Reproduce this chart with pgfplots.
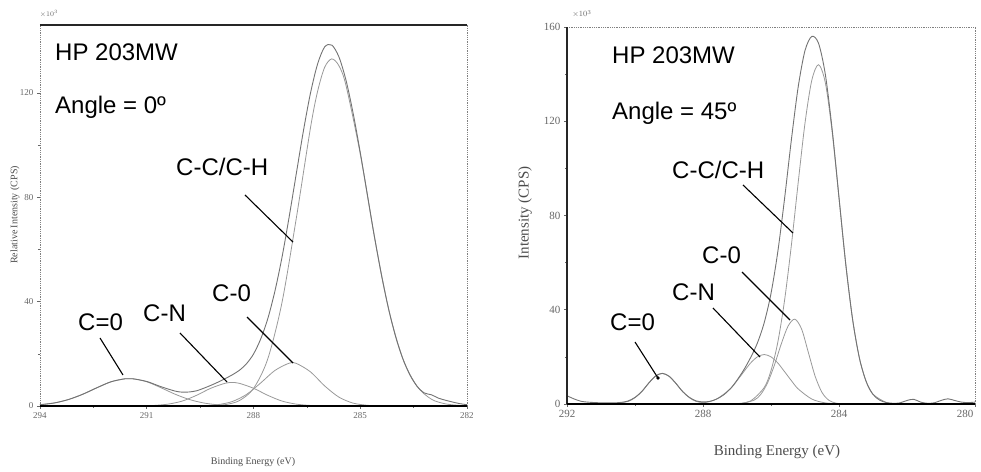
\documentclass[border=0pt]{standalone}
\usepackage{pgfplots}
\pgfplotsset{compat=1.18}
\usepackage{fontspec}
\setmainfont{Liberation Serif}
\newfontfamily\arial{Liberation Sans}

\begin{document}
\begin{tikzpicture}
\useasboundingbox (0,0) rectangle (981bp,472bp);
\pgfplotsset{
  xps/.style={scale only axis, anchor=south west, x dir=reverse, clip=false,
    axis line style={draw=none}, tick align=outside, xtick pos=left, ytick pos=left,
    major tick length=3bp, minor tick length=2bp,
    tick style={black!60, line width=0.6bp}, minor tick num=1,
    /pgf/number format/assume math mode=true, /pgf/number format/1000 sep={}},
  comp/.style={black!40, line width=0.8bp, smooth},
  env/.style={black!55, line width=0.9bp, smooth},
}

% ---------------- left panel: angle 0 ----------------
\begin{axis}[xps, at={(40bp,66bp)}, width=427bp, height=381bp,
  xmin=282, xmax=294, ymin=0, ymax=146,
  xtick={282,285,288,291,294}, ytick={0,40,80,120},
  ticklabel style={font=\fontsize{9bp}{9bp}\selectfont, text=black!60}]
% C=O
\addplot[comp] coordinates {(294.0,0.46) (293.6,1.16) (293.2,2.48) (292.8,4.5) (292.4,7.0)
  (292.0,9.3) (291.6,10.45) (291.4,10.45) (291.0,9.3) (290.6,7.0) (290.2,4.5) (289.8,2.48)
  (289.4,1.16) (289.0,0.46) (288.6,0.16) (288.2,0.05)};
% C-N
\addplot[comp] coordinates {(291.2,0.05) (290.8,0.21) (290.4,0.72) (290.0,1.9) (289.6,4.1)
  (289.2,6.8) (288.8,8.7) (288.6,9.0) (288.4,8.7) (288.0,6.8) (287.6,4.1) (287.2,1.9)
  (286.8,0.72) (286.4,0.21) (286.0,0.05)};
% C-O
\addplot[comp] coordinates {(289.4,0.13) (289.0,0.52) (288.6,1.7) (288.2,4.4) (287.8,8.8)
  (287.4,13.6) (287.0,16.4) (286.8,16.35) (286.4,13.1) (286.0,7.7) (285.6,3.4) (285.2,1.1)
  (284.8,0.26) (284.6,0.12)};
% C-C/C-H
\addplot[comp] coordinates {(289.2,0.1) (288.8,0.51) (288.4,2.05) (288.0,6.7) (287.6,18.0)
  (287.2,39.6) (286.8,71.7) (286.4,106.5) (286.2,120.5) (286.0,129.8) (285.8,133.0)
  (285.6,130.4) (285.4,122.8) (285.0,96.6) (284.6,64.7) (284.2,37.0) (283.8,18.0)
  (283.4,7.5) (283.0,2.6) (282.6,0.8) (282.2,0.2)};
% envelope
\addplot[env] coordinates {(294.0,0.5) (293.6,1.16) (293.2,2.48) (292.8,4.5) (292.4,7.0)
  (292.0,9.3) (291.6,10.45) (291.4,10.45) (291.0,9.4) (290.6,7.4) (290.2,5.7) (290.0,5.31)
  (289.8,5.38) (289.6,5.83) (289.4,6.79) (289.2,7.9) (289.0,9.12) (288.8,10.47)
  (288.6,11.91) (288.4,13.64) (288.2,16.15) (288.0,19.9) (287.8,25.6) (287.6,33.4)
  (287.4,43.9) (287.2,56.9) (287.0,72.3) (286.8,88.8) (286.6,105.2) (286.4,119.8)
  (286.2,131.0) (286.0,137.6) (285.8,138.3) (285.6,133.8) (285.4,124.8) (285.2,112.2)
  (285.0,97.2) (284.8,81.0) (284.6,64.8) (284.4,49.9) (284.2,37.0) (284.0,26.3)
  (283.8,18.0) (283.6,11.8) (283.4,7.5) (283.2,5.0) (283.0,4.3) (282.8,3.0) (282.6,2.2)
  (282.4,1.5) (282.2,0.9) (282.0,0.5)};
\draw[black!50, line width=0.8bp, densely dotted] (axis cs:294,0) -- (axis cs:294,146);
\draw[black!50, line width=0.8bp, densely dotted] (axis cs:282,0) -- (axis cs:282,146);
\draw[black!85, line width=1.5bp] (axis cs:294,146) -- (axis cs:282,146);
\draw[black, line width=2.2bp] (axis cs:294,0) -- (axis cs:282,0);
\end{axis}

% ---------------- right panel: angle 45 ----------------
\begin{axis}[xps, at={(567bp,68bp)}, width=408bp, height=377bp,
  xmin=280, xmax=292, ymin=0, ymax=160,
  xtick={284,288,292}, ytick={0,40,80,120,160},
  extra x ticks={280},
  extra x tick style={xticklabel style={anchor=north east, xshift=2bp}},
  ticklabel style={font=\fontsize{11bp}{11bp}\selectfont, text=black!60}]
% C=O
\addplot[comp] coordinates {(290.6,0.1) (290.2,1.1) (290.0,2.7) (289.8,5.3) (289.6,8.8)
  (289.4,11.8) (289.2,13.0) (289.0,11.8) (288.8,8.8) (288.6,5.3) (288.4,2.7) (288.2,1.1)
  (287.8,0.1)};
% C-N
\addplot[comp] coordinates {(288.4,0.07) (288.0,0.46) (287.6,2.1) (287.2,6.4) (287.0,9.9)
  (286.8,13.7) (286.6,17.4) (286.4,20.0) (286.2,21.0) (286.0,20.0) (285.8,17.4)
  (285.6,13.7) (285.4,9.9) (285.2,6.4) (284.8,2.1) (284.4,0.46) (284.0,0.07)};
% C-O
\addplot[comp] coordinates {(286.9,0.14) (286.5,1.6) (286.3,4.1) (286.1,9.0) (285.9,16.5)
  (285.7,25.4) (285.5,33.0) (285.3,36.0) (285.1,31.8) (284.9,21.8) (284.7,11.7)
  (284.5,4.9) (284.3,1.6) (284.1,0.4) (283.9,0.05)};
% C-C/C-H
\addplot[comp] coordinates {(287.0,0.16) (286.6,1.3) (286.2,7.0) (286.0,14.2) (285.8,26.2)
  (285.6,44.1) (285.4,67.5) (285.2,94.0) (285.0,119.2) (284.8,137.4) (284.6,144.0)
  (284.4,136.2) (284.2,115.3) (284.0,87.4) (283.8,59.2) (283.6,35.9) (283.4,19.5)
  (283.2,9.5) (283.0,4.1) (282.6,0.56) (282.4,0.17)};
% envelope
\addplot[env] coordinates {(292.0,3.5) (291.8,2.2) (291.6,1.2) (291.4,0.8) (291.0,0.5)
  (290.6,0.5) (290.4,0.7) (290.2,1.3) (290.0,2.8) (289.8,5.3) (289.6,8.8) (289.4,11.8)
  (289.2,13.0) (289.0,11.8) (288.8,8.8) (288.6,5.3) (288.4,2.8) (288.2,1.3) (288.0,0.9)
  (287.8,1.1) (287.6,2.1) (287.4,3.8) (287.2,6.4) (287.0,10.1) (286.8,14.5) (286.6,19.7)
  (286.4,25.9) (286.2,34.5) (286.0,46.9) (285.8,64.6) (285.6,87.3) (285.4,112.2)
  (285.2,134.6) (285.0,150.0) (284.8,156.0) (284.6,153.0) (284.4,139.7) (284.2,116.4)
  (284.0,87.7) (283.8,59.2) (283.6,35.9) (283.4,19.5) (283.2,9.5) (283.0,4.1) (282.8,1.6)
  (282.6,0.6) (282.4,0.3) (282.2,0.5) (282.0,1.5) (281.8,2.0) (281.6,0.8) (281.4,0.3)
  (281.2,0.5) (281.0,1.5) (280.8,2.2) (280.6,1.5) (280.4,0.8) (280.2,0.6) (280.0,0.8)};
\draw[black!50, line width=0.8bp, densely dotted] (axis cs:292,160) -- (axis cs:280,160);
\draw[black!50, line width=0.8bp, densely dotted] (axis cs:280,0) -- (axis cs:280,160);
\draw[black!85, line width=1.8bp] (axis cs:292,0) -- (axis cs:292,160);
\draw[black, line width=2bp] (axis cs:292,0) -- (axis cs:280,0);
\end{axis}

% ---------------- labels and pointers ----------------
\begin{scope}[x=1bp, y=1bp, every node/.style={inner sep=0pt}]
\def\big{\arial\fontsize{24bp}{24bp}\selectfont}
% left panel
\node[anchor=west] at (55,420) {\big HP 203MW};
\node[anchor=west] at (55,365) {\big Angle = 0º};
\node[anchor=west] at (176,305) {\big C-C/C-H};
\node[anchor=west] at (78,150) {\big C=0};
\node[anchor=west] at (143,159) {\big C-N};
\node[anchor=west] at (212,179) {\big C-0};
\draw[line width=1.1bp] (245,277) -- (293,230);
\draw[line width=1.1bp] (100,134) -- (123,97);
\draw[line width=1.1bp] (180,139) -- (227,90);
\draw[line width=1.1bp] (247,155) -- (293,109);
\node[text=black!60, font=\fontsize{7bp}{7bp}\selectfont] at (49,458) {$\times10^{3}$};
\node[font=\fontsize{10bp}{10bp}\selectfont, text=black!70] at (253,10) {Binding Energy (eV)};
\node[font=\fontsize{10bp}{10bp}\selectfont, text=black!70, rotate=90] at (15,257) {Relative Intensity (CPS)};
% right panel
\node[anchor=west] at (612,417) {\big HP 203MW};
\node[anchor=west] at (612,359) {\big Angle = 45º};
\node[anchor=west] at (672,302) {\big C-C/C-H};
\node[anchor=west] at (702,217) {\big C-0};
\node[anchor=west] at (672,180) {\big C-N};
\node[anchor=west] at (610,150) {\big C=0};
\draw[line width=1.1bp] (743,287) -- (793,239);
\draw[line width=1.1bp] (742,200) -- (790,152);
\draw[line width=1.1bp] (713,164) -- (760,115);
\draw[line width=1.1bp] (635,130) -- (658,94);
\fill (658,94) circle (1.8bp);
\node[text=black!60, font=\fontsize{8bp}{8bp}\selectfont] at (582,458) {$\times10^{3}$};
\node[font=\fontsize{15bp}{15bp}\selectfont, text=black!70] at (777,20) {Binding Energy (eV)};
\node[font=\fontsize{15bp}{15bp}\selectfont, text=black!70, rotate=90] at (525,259) {Intensity (CPS)};
\end{scope}
\end{tikzpicture}
\end{document}
